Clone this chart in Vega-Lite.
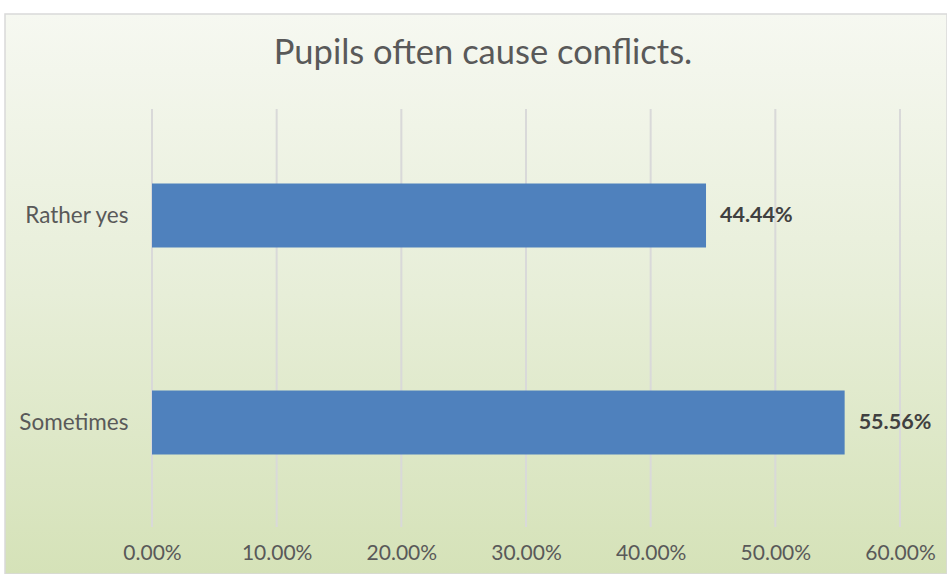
{
  "$schema": "https://vega.github.io/schema/vega-lite/v6.json",
  "width": 942,
  "height": 560,
  "autosize": {"type": "none"},
  "padding": {"left": 5, "top": 14, "right": 0, "bottom": 0},
  "background": "#ffffff",
  "title": {
    "text": "Pupils often cause conflicts.",
    "font": "Lato",
    "fontSize": 34.5,
    "fontWeight": "normal",
    "color": "#595959",
    "anchor": "middle",
    "baseline": "middle",
    "offset": -44,
    "dy": 30,
    "dx": 7
  },
  "config": {
    "view": {
      "stroke": "#d9d9d9",
      "strokeWidth": 1.5,
      "fill": {
        "gradient": "linear",
        "x1": 0, "y1": 0, "x2": 0, "y2": 1,
        "stops": [
          {"offset": 0, "color": "#f6f8f1"},
          {"offset": 0.5, "color": "#e7eed8"},
          {"offset": 1, "color": "#d5e2b8"}
        ]
      }
    },
    "axisX": {
      "title": null, "format": ".2%", "values": [0, 0.1, 0.2, 0.3, 0.4, 0.5, 0.6],
      "grid": false, "domain": false, "ticks": false, "tickSize": 0,
      "labelPadding": -32, "labelBound": false, "labelOverlap": false, "labelFlush": false,
      "labelFont": "Lato", "labelFontSize": 21, "labelColor": "#595959"
    }
  },
  "datasets": {
    "bars": [
      {"answer": "Rather yes", "share": 0.4444},
      {"answer": "Sometimes", "share": 0.5556}
    ],
    "grid": [
      {"v": 0}, {"v": 0.1}, {"v": 0.2}, {"v": 0.3}, {"v": 0.4}, {"v": 0.5}, {"v": 0.6}
    ]
  },
  "layer": [
    {
      "data": {"name": "grid"},
      "mark": {"type": "rule", "color": "#d9d9d9", "strokeWidth": 2},
      "encoding": {
        "x": {"field": "v", "type": "quantitative", "scale": {"domain": [0, 0.6], "nice": false, "range": [147, 895]},
              "axis": {"title": null, "format": ".2%", "values": [0, 0.1, 0.2, 0.3, 0.4, 0.5, 0.6], "labelFlush": false}},
        "y": {"datum": 0, "type": "quantitative", "scale": {"domain": [0, 1], "range": [513, 95]}, "axis": null},
        "y2": {"datum": 1}
      }
    },
    {
      "data": {"name": "bars"},
      "encoding": {
        "y": {
          "field": "answer", "type": "nominal", "sort": null,
          "scale": {"range": [98, 512], "paddingInner": 0.69, "paddingOuter": 0.345},
          "axis": {
            "title": null, "domain": false, "ticks": false, "tickSize": 0,
            "labelPadding": 0, "offset": -123,
            "labelFont": "Lato", "labelFontSize": 22.5, "labelColor": "#595959"
          }
        },
        "x": {
          "field": "share", "type": "quantitative",
          "scale": {"domain": [0, 0.6], "nice": false, "range": [147, 895]},
          "axis": {"title": null, "format": ".2%", "values": [0, 0.1, 0.2, 0.3, 0.4, 0.5, 0.6], "labelFlush": false}
        }
      },
      "layer": [
        {"mark": {"type": "bar", "color": "#4f81bd"}},
        {
          "mark": {"type": "text", "align": "left", "baseline": "middle", "dx": 14,
                   "font": "Lato", "fontSize": 21.5, "fontWeight": "bold", "color": "#404040"},
          "encoding": {"text": {"field": "share", "type": "quantitative", "format": ".2%"}}
        }
      ]
    }
  ],
  "resolve": {"scale": {"y": "independent"}}
}
